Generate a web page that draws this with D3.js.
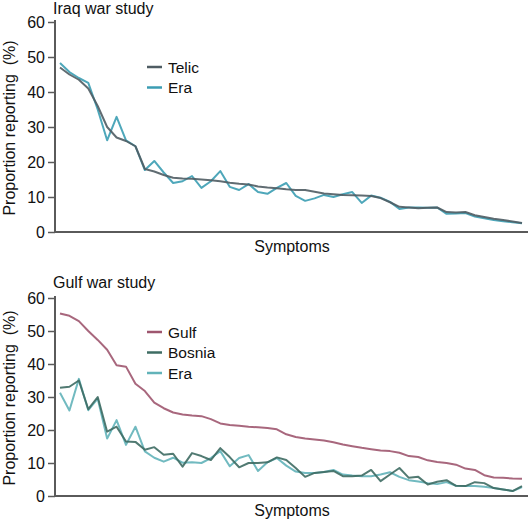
<!DOCTYPE html>
<html>
<head>
<meta charset="utf-8">
<script src="https://cdn.jsdelivr.net/npm/d3@7"></script>
<style>
  html, body { margin: 0; padding: 0; background: #fff; }
  svg { display: block; font-family: "Liberation Sans", Arial, sans-serif; }
</style>
</head>
<body>
<svg id="chart" width="530" height="520"></svg>
<script>
// ---- Data ----
const yTicks = [0, 10, 20, 30, 40, 50, 60];

const iraqTelic = [47, 45, 43.5, 41, 36, 30, 27, 26, 24.5, 18, 17.3, 16.3, 15.5, 15.3, 15.2, 15, 14.8, 14.5, 14.1, 13.8,
  13.6, 13, 12.7, 12.5, 12.2, 12, 12, 11.5, 11, 10.8, 10.6, 10.5, 10.4, 10.3, 9.7, 8.5, 7.2, 7, 6.8, 6.9,
  7, 5.7, 5.6, 5.7, 4.8, 4.3, 3.8, 3.4, 3, 2.6];
const iraqEra = [48.3, 45.7, 44, 42.6, 35, 26.2, 32.9, 26.2, 24.5, 17.7, 20.3, 17, 14, 14.5, 16, 12.6, 14.5, 17.4, 12.9, 12,
  13.7, 11.4, 10.9, 12.6, 14, 10.3, 8.9, 9.6, 10.6, 10, 10.8, 11.4, 8.3, 10.4, 9.8, 8.6, 6.6, 7, 7, 6.9,
  7, 5.2, 5.3, 5.4, 4.4, 3.9, 3.4, 3.1, 2.8, 2.5];

const gulfGulf = [55.3, 54.6, 53, 50, 47.3, 44.3, 39.6, 39.2, 34, 31.8, 28.3, 26.6, 25.3, 24.7, 24.4, 24.2, 23.3, 22, 21.5, 21.3,
  21, 20.8, 20.6, 20.2, 18.7, 17.9, 17.4, 17.1, 16.8, 16.3, 15.6, 15.1, 14.6, 14.2, 13.8, 13.6, 13.1, 12.1, 11.8, 10.8,
  10.3, 10, 9.5, 8.3, 7.9, 6.3, 5.6, 5.5, 5.3, 5.2];
const gulfBosnia = [32.8, 33.1, 35, 26.3, 30, 19.5, 21, 16.5, 16.4, 14, 14.8, 12.5, 12.8, 8.9, 13, 12.1, 10.9, 14.5, 11.8, 8.7,
  10, 10, 10.2, 11.7, 10.9, 8.5, 5.8, 7, 7.3, 7.6, 6, 6, 6.2, 7.9, 4.5, 6.5, 8.5, 5.5, 5.8, 3.5,
  4.3, 4.8, 3.1, 3, 4.2, 3.9, 2.4, 2, 1.5, 3];
const gulfEra = [31.3, 25.9, 35.5, 26, 29.5, 17.4, 23, 15.5, 21, 13.5, 11.6, 10.4, 11.6, 10.1, 10.2, 10, 11.5, 13.6, 9, 11.5,
  12.4, 7.6, 10.2, 11.5, 9.2, 7.4, 7, 7, 7.3, 7.9, 6.5, 6.2, 6, 6, 6.5, 7.2, 5.8, 4.8, 4.4, 3.9,
  3.6, 4.2, 3.1, 3, 3, 2.8, 2.4, 2, 1.5, 2.7];

const panels = [
  { title: "Iraq war study", titleY: 13.5, top: 22, bottom: 232, legendY: 67,
    series: [
      { name: "Telic", values: iraqTelic, color: "#4f5c63" },
      { name: "Era", values: iraqEra, color: "#3b9db3" }
    ] },
  { title: "Gulf war study", titleY: 288, top: 298, bottom: 496, legendY: 332,
    series: [
      { name: "Gulf", values: gulfGulf, color: "#9e566f" },
      { name: "Bosnia", values: gulfBosnia, color: "#3e6c63" },
      { name: "Era", values: gulfEra, color: "#62b3b9" }
    ] }
];

const svg = d3.select("#chart");
const axisLeftX = 55, axisRightX = 528;
const x = d3.scaleLinear().domain([0, 49]).range([60, 522]);
const axisColor = "#5a5a5a";

panels.forEach(p => {
  const y = d3.scaleLinear().domain([0, 60]).range([p.bottom, p.top]);
  const g = svg.append("g");

  // title
  g.append("text").attr("x", 53).attr("y", p.titleY)
    .attr("font-size", 16).attr("fill", "#111").text(p.title);

  // y axis
  const ya = g.append("g").attr("transform", `translate(${axisLeftX},0)`)
    .call(d3.axisLeft(y).tickValues(yTicks).tickSize(7).tickPadding(3).tickFormat(d3.format("d")));
  ya.select(".domain").attr("stroke", axisColor).attr("stroke-width", 2)
    .attr("d", `M0,${p.top - 2}V${p.bottom}`);
  ya.selectAll(".tick line").attr("stroke", axisColor).attr("stroke-width", 1.5);
  ya.selectAll(".tick text").attr("font-size", 16).attr("fill", "#111")
    .attr("font-family", "'Liberation Sans', Arial, sans-serif");

  // x axis line
  g.append("line").attr("x1", axisLeftX - 1).attr("x2", axisRightX)
    .attr("y1", p.bottom).attr("y2", p.bottom)
    .attr("stroke", axisColor).attr("stroke-width", 2);

  g.append("text").attr("x", 292).attr("y", p.bottom + 20)
    .attr("text-anchor", "middle").attr("font-size", 16).attr("fill", "#111")
    .text("Symptoms");

  // y label
  g.append("text")
    .attr("transform", `translate(15,${(p.top + p.bottom) / 2 + 1}) rotate(-90)`)
    .attr("text-anchor", "middle").attr("font-size", 16).attr("fill", "#111")
    .attr("xml:space", "preserve").style("white-space", "pre")
    .text("Proportion reporting  (%)");

  // lines
  const line = d3.line().x((d, i) => x(i)).y(d => y(d));
  p.series.slice().reverse().forEach(s => {
    g.append("path").datum(s.values)
      .attr("d", line).attr("fill", "none")
      .attr("stroke", s.color).attr("stroke-width", 2)
      .attr("stroke-linejoin", "round").attr("opacity", 0.9);
  });

  // legend
  p.series.forEach((s, k) => {
    const ly = p.legendY + k * 20.5;
    g.append("line").attr("x1", 147).attr("x2", 162).attr("y1", ly).attr("y2", ly)
      .attr("stroke", s.color).attr("stroke-width", 2.5);
    g.append("text").attr("x", 168).attr("y", ly + 5.5)
      .attr("font-size", 15.5).attr("fill", "#111").text(s.name);
  });
});
</script>
</body>
</html>
